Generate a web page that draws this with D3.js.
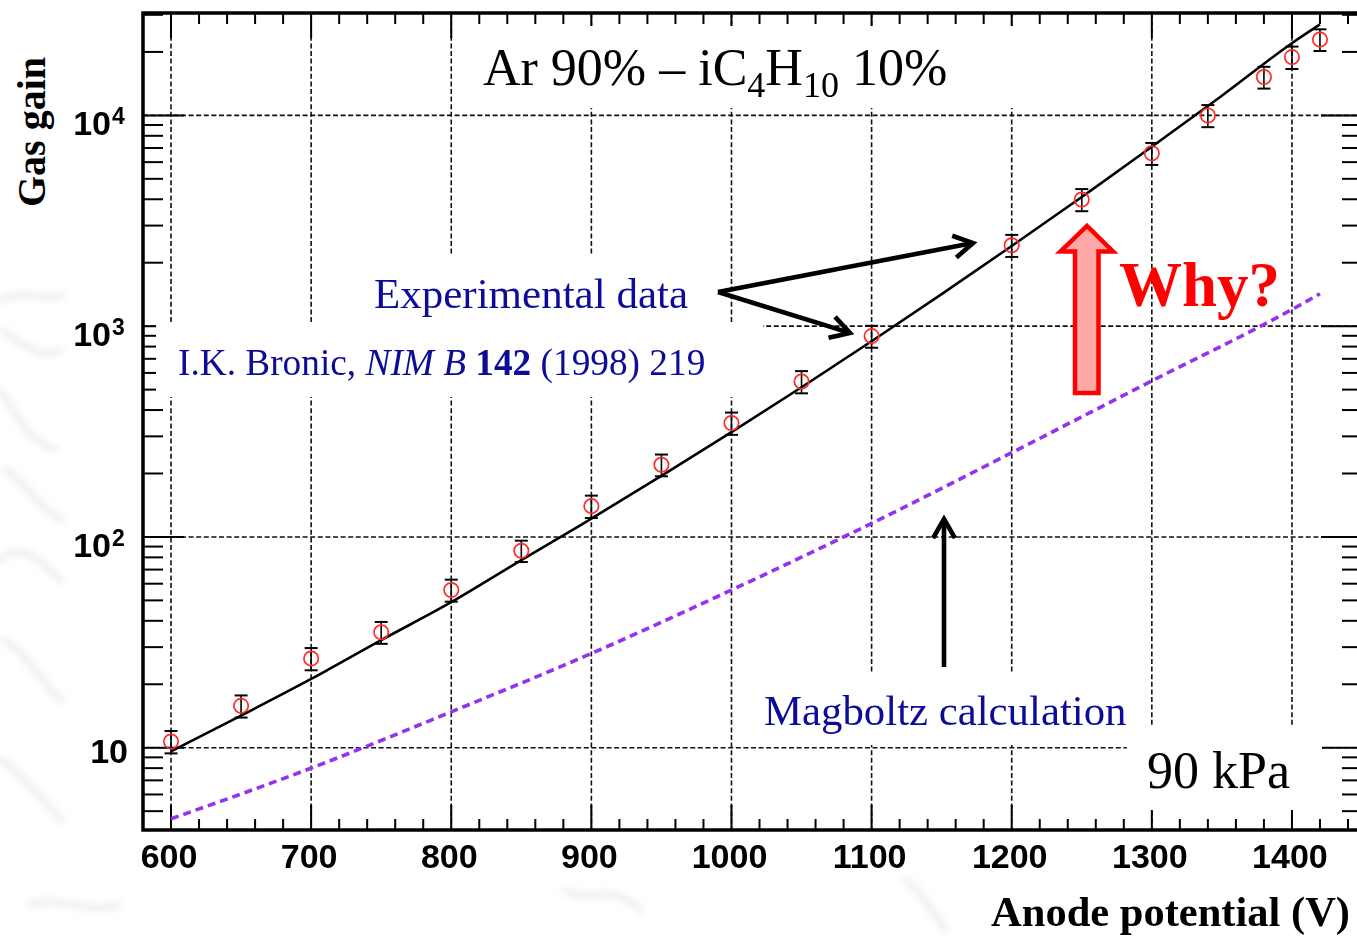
<!DOCTYPE html>
<html>
<head>
<meta charset="utf-8">
<script src="https://cdn.jsdelivr.net/npm/d3@7"></script>
<style>
  body { margin: 0; background: #fff; }
  svg { display: block; }
  text { white-space: pre; }
</style>
</head>
<body>
<svg id="chart" width="1357" height="936"></svg>
<script>
// Measured gas gain versus anode potential (Ar 90% - iC4H10 10%, 90 kPa)
const voltages   = [600, 650, 700, 750, 800, 850, 900, 950, 1000, 1050, 1100, 1200, 1250, 1300, 1340, 1380, 1400, 1420];
const gains      = [10.7, 15.8, 26.5, 35.3, 56, 86, 140, 220, 347, 546, 897, 2420, 3990, 6610, 9990, 15200, 18900, 22900];
const gainErrors = [1.3, 1.9, 3.2, 4.2, 6.7, 10, 17, 26, 42, 66, 107, 290, 480, 790, 1200, 1800, 2300, 2700];

// Fitted curve through the measurements
const fitVoltages = [600, 650, 700, 750, 800, 850, 900, 950, 1000, 1050, 1100, 1150, 1200, 1250, 1300, 1350, 1400, 1420];
const fitGains    = [9.6, 14.2, 21.2, 32.4, 49, 77.6, 122, 195, 314, 513, 848, 1420, 2400, 4100, 7100, 12400, 22000, 27000];

// Magboltz calculation
const magVoltages = [600, 700, 800, 900, 1000, 1100, 1200, 1300, 1400, 1420];
const magGains    = [4.6, 8.0, 14.8, 28, 56, 116, 251, 550, 1200, 1425];

// Axis ticks
const xTickLabels = [600, 700, 800, 900, 1000, 1100, 1200, 1300, 1400];
const yDecadeExponents = [1, 2, 3, 4];

const SERIF = "'Liberation Serif', 'Times New Roman', serif";
const SANS = "'Liberation Sans', Arial, Helvetica, sans-serif";
const NAVY = "#0c0c98";

const svg = d3.select("#chart");
svg.append("rect").attr("width", 1357).attr("height", 936).attr("fill", "#fff");

// faint background texture
const defs = svg.append("defs");
defs.append("filter").attr("id", "soft").append("feGaussianBlur").attr("stdDeviation", 3.5);
const haze = svg.append("g").attr("filter", "url(#soft)").attr("fill", "none")
  .attr("stroke", "#e2e2e2").attr("stroke-linecap", "round");
[
  "M0,300 C20,290 45,300 62,296",
  "M2,330 C25,345 40,360 60,350",
  "M0,390 C18,420 30,440 55,450",
  "M5,470 C25,480 35,505 62,520",
  "M0,560 C20,540 40,560 60,580",
  "M4,640 C30,655 45,690 62,700",
  "M0,760 C20,770 40,800 62,820",
  "M30,905 C60,895 90,915 118,905",
  "M565,890 C590,905 610,880 640,910",
  "M905,880 C925,895 935,915 945,930"
].forEach(d => haze.append("path").attr("d", d).attr("stroke-width", 7).attr("opacity", 0.55));

const pL = 143, pR = 1362, pT = 13, pB = 830;
const x = d3.scaleLinear().domain([580, 1450]).range([pL, pR]);
const y = d3.scaleLog().domain([4.07, 30600]).range([pB, pT]);

// ---- grid ----
const grid = svg.append("g").attr("stroke", "#111").attr("stroke-width", 1.6)
  .attr("stroke-dasharray", "5,2.6");
xTickLabels.forEach(v => grid.append("line")
  .attr("x1", x(v)).attr("x2", x(v)).attr("y1", pT).attr("y2", pB));
yDecadeExponents.forEach(e => grid.append("line")
  .attr("x1", pL).attr("x2", pR).attr("y1", y(10 ** e)).attr("y2", y(10 ** e)));

// ---- ticks ----
const ticks = svg.append("g").attr("stroke", "#000").attr("stroke-width", 2);
d3.range(580, 1451, 20).forEach(v => {
  const major = v % 100 === 0;
  const len = major ? 25 : 11;
  ticks.append("line").attr("x1", x(v)).attr("x2", x(v)).attr("y1", pB).attr("y2", pB - len);
  ticks.append("line").attr("x1", x(v)).attr("x2", x(v)).attr("y1", pT).attr("y2", pT + len);
});
const [yLo, yHi] = y.domain();
for (let e = 0; e <= 4; e++) {
  for (let m = 1; m <= 9; m++) {
    const val = m * 10 ** e;
    if (val < yLo || val > yHi) continue;
    const len = m === 1 ? 41 : 20;
    ticks.append("line").attr("x1", pL).attr("x2", pL + len).attr("y1", y(val)).attr("y2", y(val));
    ticks.append("line").attr("x1", pR).attr("x2", pR - len).attr("y1", y(val)).attr("y2", y(val));
  }
}

// ---- white label panels ----
const panels = [
  [460, 26, 1030, 108],   // title
  [365, 255, 700, 322],   // "Experimental data"
  [156, 322, 763, 397],   // reference
  [755, 672, 1127, 745],  // "Magboltz calculation"
  [1127, 727, 1322, 810]  // pressure
];
panels.forEach(([x0, y0, x1, y1]) => svg.append("rect")
  .attr("x", x0).attr("y", y0).attr("width", x1 - x0).attr("height", y1 - y0).attr("fill", "#fff"));

// ---- frame ----
svg.append("rect").attr("x", pL).attr("y", pT).attr("width", pR - pL).attr("height", pB - pT)
  .attr("fill", "none").attr("stroke", "#000").attr("stroke-width", 3.5);

// ---- tick labels ----
const xl = svg.append("g").attr("font-family", SANS).attr("font-weight", "bold").attr("font-size", 34)
  .attr("fill", "#000").attr("text-anchor", "middle");
xTickLabels.forEach(v => xl.append("text").attr("x", x(v) - 2).attr("y", 868).text(v));

const yl = svg.append("g").attr("font-family", SANS).attr("font-weight", "bold").attr("fill", "#000");
yDecadeExponents.forEach(e => {
  const yy = y(10 ** e);
  if (e === 1) {
    yl.append("text").attr("x", 128).attr("y", yy + 15).attr("text-anchor", "end")
      .attr("font-size", 34).text("10");
  } else {
    yl.append("text").attr("x", 111).attr("y", yy + 20).attr("text-anchor", "end")
      .attr("font-size", 34).text("10");
    yl.append("text").attr("x", 112).attr("y", yy + 9).attr("font-size", 23).text(e);
  }
});

// ---- axis titles ----
svg.append("text").attr("transform", "translate(45,132) rotate(-90)").attr("text-anchor", "middle")
  .attr("font-family", SERIF).attr("font-weight", "bold").attr("font-size", 40).text("Gas gain");
svg.append("text").attr("x", 1350).attr("y", 926).attr("text-anchor", "end")
  .attr("font-family", SERIF).attr("font-weight", "bold").attr("font-size", 42.5).text("Anode potential (V)");

// ---- Magboltz curve ----
const magData = magVoltages.map((v, i) => ({ v, g: magGains[i] }));
svg.append("path").datum(magData)
  .attr("d", d3.line().x(d => x(d.v)).y(d => y(d.g)).curve(d3.curveMonotoneX))
  .attr("fill", "none").attr("stroke", "#9432f2").attr("stroke-width", 3.6)
  .attr("stroke-dasharray", "8,5");

// ---- fitted curve ----
const fitData = fitVoltages.map((v, i) => ({ v, g: fitGains[i] }));
svg.append("path").datum(fitData)
  .attr("d", d3.line().x(d => x(d.v)).y(d => y(d.g)).curve(d3.curveMonotoneX))
  .attr("fill", "none").attr("stroke", "#000").attr("stroke-width", 2.6);

// ---- measured points with error bars ----
const pts = voltages.map((v, i) => ({ v, g: gains[i], e: gainErrors[i] }));
const pg = svg.append("g");
pts.forEach(d => {
  const cx = x(d.v), yUp = y(d.g + d.e), yDn = y(d.g - d.e);
  pg.append("line").attr("x1", cx).attr("x2", cx).attr("y1", yUp).attr("y2", yDn)
    .attr("stroke", "#000").attr("stroke-width", 1.6);
  [yUp, yDn].forEach(yy => pg.append("line").attr("x1", cx - 6.5).attr("x2", cx + 6.5)
    .attr("y1", yy).attr("y2", yy).attr("stroke", "#000").attr("stroke-width", 2));
  pg.append("circle").attr("cx", cx).attr("cy", y(d.g)).attr("r", 7.2)
    .attr("fill", "none").attr("stroke", "#ff2a2a").attr("stroke-width", 1.7);
});

// ---- annotations ----
const title = svg.append("text").attr("x", 483).attr("y", 85).attr("font-family", SERIF)
  .attr("font-size", 52).attr("fill", "#000");
title.append("tspan").text("Ar 90% \u2013 iC");
title.append("tspan").attr("font-size", 36).attr("dy", 12).text("4");
title.append("tspan").attr("dy", -12).text("H");
title.append("tspan").attr("font-size", 36).attr("dy", 12).text("10");
title.append("tspan").attr("dy", -12).text(" 10%");

svg.append("text").attr("x", 374).attr("y", 308).attr("font-family", SERIF).attr("font-size", 43)
  .attr("fill", NAVY).text("Experimental data");

const ref = svg.append("text").attr("x", 178).attr("y", 375).attr("font-family", SERIF)
  .attr("font-size", 37.3).attr("fill", NAVY);
ref.append("tspan").text("I.K. Bronic, ");
ref.append("tspan").attr("font-style", "italic").text("NIM B");
ref.append("tspan").text(" ");
ref.append("tspan").attr("font-weight", "bold").text("142");
ref.append("tspan").text(" (1998) 219");

svg.append("text").attr("x", 764).attr("y", 725).attr("font-family", SERIF).attr("font-size", 42.8)
  .attr("fill", NAVY).text("Magboltz calculation");

svg.append("text").attr("x", 1147).attr("y", 788).attr("font-family", SERIF).attr("font-size", 52)
  .attr("fill", "#000").text("90 kPa");

svg.append("text").attr("x", 1119).attr("y", 306).attr("font-family", SERIF).attr("font-size", 63)
  .attr("font-weight", "bold").attr("fill", "#ff0000").text("Why?");

// black pointer arrows
function arrow(g, x0, y0, x1, y1) {
  g.append("line").attr("x1", x0).attr("y1", y0).attr("x2", x1).attr("y2", y1);
  const a = Math.atan2(y0 - y1, x0 - x1), L = 22, w = Math.PI / 6;
  g.append("polyline").attr("points", [
    [x1 + L * Math.cos(a + w), y1 + L * Math.sin(a + w)],
    [x1, y1],
    [x1 + L * Math.cos(a - w), y1 + L * Math.sin(a - w)]
  ].map(p => p.join(",")).join(" "));
}
const arrows = svg.append("g").attr("stroke", "#000").attr("stroke-width", 4.6).attr("fill", "none")
  .attr("stroke-linejoin", "miter").attr("stroke-linecap", "butt");
arrow(arrows, 718, 292, 973, 243);
arrow(arrows, 718, 292, 850, 333);
arrow(arrows, 944, 667, 944, 519);

// red block arrow
svg.append("polygon")
  .attr("points", "1087,226 1113,251.5 1098.5,251.5 1098.5,393 1075,393 1075,251.5 1060.5,251.5")
  .attr("fill", "#ffa8a8").attr("stroke", "#ff0000").attr("stroke-width", 4.5)
  .attr("stroke-linejoin", "miter");
</script>
</body>
</html>
